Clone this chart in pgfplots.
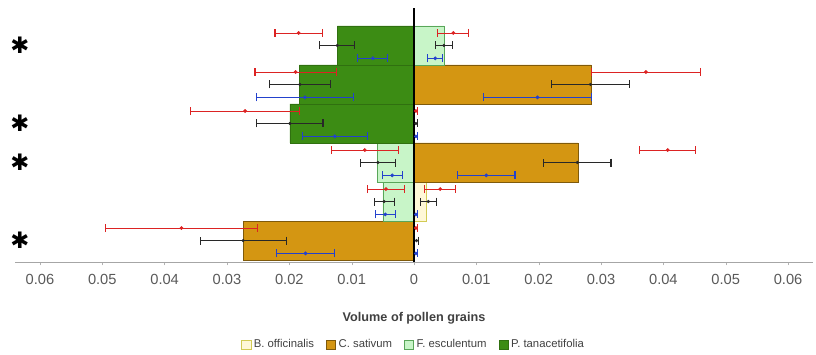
\documentclass[border=0pt]{standalone}
\usepackage{fontspec}
\setmainfont{Liberation Sans}
\newfontfamily\dejavu{DejaVu Sans}
\usepackage{pgfplots}
\pgfplotsset{compat=1.18}
\definecolor{pgreen}{RGB}{60,140,20}
\definecolor{ctan}{RGB}{212,150,18}
\definecolor{flight}{RGB}{200,245,200}
\definecolor{byellow}{RGB}{255,248,215}
\definecolor{ered}{RGB}{220,35,35}
\definecolor{eblack}{RGB}{40,40,40}
\definecolor{eblue}{RGB}{35,65,205}
\begin{document}
\begin{tikzpicture}
\begin{axis}[
  scale only axis, width=598.5pt, height=190.5pt,
  xmin=-0.064, xmax=0.064, ymin=0.45, ymax=6.96,
  axis x line*=bottom, axis y line=none,
  x axis line style={gray!70},
  xtick={-0.06,-0.05,-0.04,-0.03,-0.02,-0.01,0,0.01,0.02,0.03,0.04,0.05,0.06},
  xticklabels={0.06,0.05,0.04,0.03,0.02,0.01,0,0.01,0.02,0.03,0.04,0.05,0.06},
  xtick align=outside, major tick length=2.5pt,
  tick style={gray!60},
  ytick=\empty,
  scaled x ticks=false,
  /pgf/number format/assume math mode=true,
  xticklabel style={font=\fontsize{11}{11}\selectfont, text=black!65, yshift=-3pt},
  xlabel={Volume of pollen grains},
  xlabel style={at={(axis description cs:0.5,0)}, anchor=center, yshift=-42pt, font=\fontsize{9.5}{9.5}\selectfont\bfseries, text=black!75},
  legend style={at={(axis description cs:0.5,0)}, anchor=center, yshift=-62pt, draw=none, fill=none,
    legend columns=4, font=\fontsize{8.5}{8.5}\selectfont, text=black!75,
    /tikz/every even column/.append style={column sep=7pt}},
  legend image code/.code={\draw[#1] (0pt,-3.5pt) rectangle (7pt,3.5pt);},
  clip=false,
]
% bars
\addplot[xbar, bar width=1, bar shift=0pt, fill=byellow, draw=yellow!60!gray] coordinates {(0.0020,2)};
\addlegendentry{B. officinalis}
\addplot[xbar, bar width=1, bar shift=0pt, fill=ctan, draw=ctan!60!black] coordinates {(0.0284,5) (0.0263,3) (-0.0274,1)};
\addlegendentry{C. sativum}
\addplot[xbar, bar width=1, bar shift=0pt, fill=flight, draw=green!30!gray] coordinates {(0.0048,6) (-0.0059,3) (-0.0050,2)};
\addlegendentry{F. esculentum}
\addplot[xbar, bar width=1, bar shift=0pt, fill=pgreen, draw=pgreen!80!black] coordinates {(-0.0123,6) (-0.0184,5) (-0.0199,4)};
\addlegendentry{P. tanacetifolia}
% error bars: red
\addplot[forget plot, only marks, mark=*, mark size=1.2pt, color=ered,
  error bars/.cd, x dir=both, x explicit,
  error bar style={line width=0.6pt, ered}, error mark options={rotate=90, mark size=3pt, line width=0.8pt, ered}]
  coordinates {
  (-0.0185,6.32) +- (0.0038,0)
  (0.0063,6.32) +- (0.0025,0)
  (-0.0190,5.32) +- (0.0065,0)
  (0.0372,5.32) +- (0.0088,0)
  (-0.0271,4.32) +- (0.0088,0)
  (0.0003,4.32) +- (0.0002,0)
  (-0.0079,3.32) +- (0.0054,0)
  (0.0407,3.32) +- (0.0045,0)
  (-0.0045,2.32) +- (0.0030,0)
  (0.0042,2.32) +- (0.0025,0)
  (-0.0373,1.32) +- (0.0122,0)
  (0.0003,1.32) +- (0.0002,0)
  };
% black
\addplot[forget plot, only marks, mark=*, mark size=1.0pt, color=eblack,
  error bars/.cd, x dir=both, x explicit,
  error bar style={line width=0.6pt, eblack}, error mark options={rotate=90, mark size=3pt, line width=0.8pt, eblack}]
  coordinates {
  (-0.0123,6) +- (0.0028,0)
  (0.0048,6) +- (0.0013,0)
  (-0.0183,5) +- (0.0049,0)
  (0.0283,5) +- (0.0063,0)
  (-0.0199,4) +- (0.0053,0)
  (0.0003,4) +- (0.0002,0)
  (-0.0058,3) +- (0.0028,0)
  (0.0262,3) +- (0.0054,0)
  (-0.0048,2) +- (0.0016,0)
  (0.0023,2) +- (0.0013,0)
  (-0.0274,1) +- (0.0069,0)
  (0.0004,1) +- (0.0003,0)
  };
% blue
\addplot[forget plot, only marks, mark=*, mark size=1.2pt, color=eblue,
  error bars/.cd, x dir=both, x explicit,
  error bar style={line width=0.6pt, eblue}, error mark options={rotate=90, mark size=3pt, line width=0.8pt, eblue}]
  coordinates {
  (-0.0066,5.67) +- (0.0024,0)
  (0.0034,5.67) +- (0.0012,0)
  (-0.0175,4.67) +- (0.0078,0)
  (0.0198,4.67) +- (0.0087,0)
  (-0.0127,3.67) +- (0.0052,0)
  (0.0003,3.67) +- (0.0002,0)
  (-0.0035,2.67) +- (0.0016,0)
  (0.0116,2.67) +- (0.0046,0)
  (-0.0046,1.67) +- (0.0016,0)
  (0.0003,1.67) +- (0.0002,0)
  (-0.0174,0.67) +- (0.0046,0)
  (0.0003,0.67) +- (0.0002,0)
  };
% zero line
\addplot[forget plot, black, line width=0.8pt] coordinates {(0,0.45) (0,6.96)};
% stars
\node[font=\dejavu\fontsize{17}{17}\selectfont] at (axis cs:-0.0632,6) {✱};
\node[font=\dejavu\fontsize{17}{17}\selectfont] at (axis cs:-0.0632,4) {✱};
\node[font=\dejavu\fontsize{17}{17}\selectfont] at (axis cs:-0.0632,3) {✱};
\node[font=\dejavu\fontsize{17}{17}\selectfont] at (axis cs:-0.0632,1) {✱};
\end{axis}
\pgfresetboundingbox
\path[use as bounding box] (-11.25pt,-69pt) rectangle (600.75pt,196.5pt);
\end{tikzpicture}
\end{document}
